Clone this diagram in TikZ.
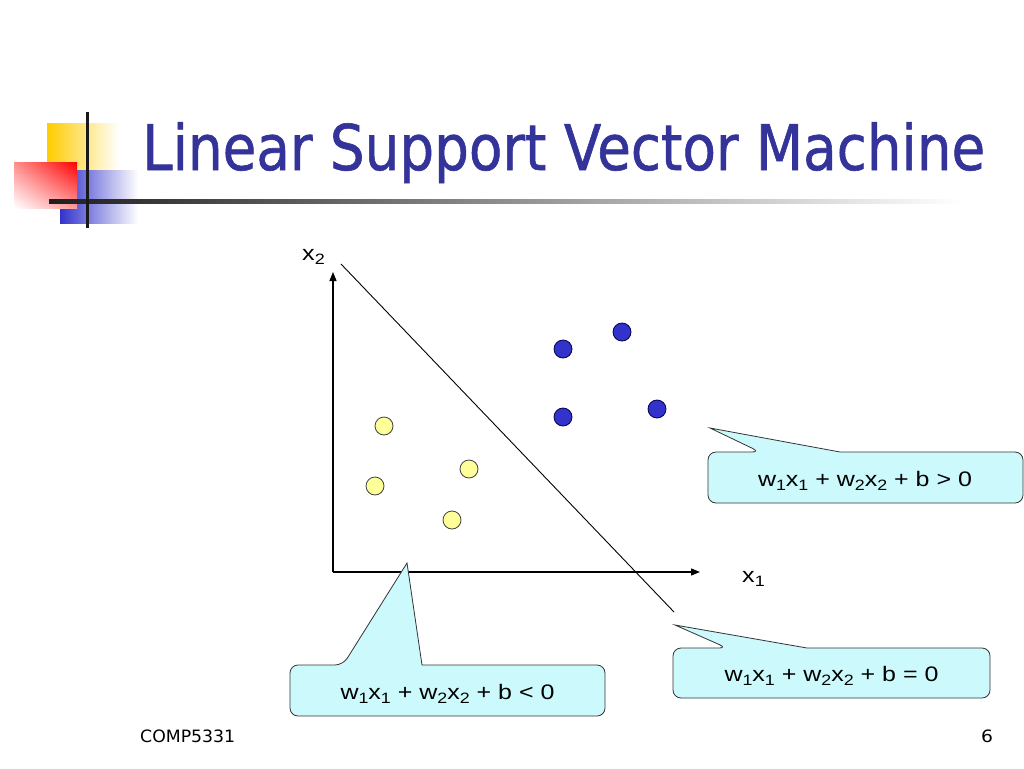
\documentclass[tikz,border=0pt]{standalone}
\usepackage{fontspec}
\setmainfont{Liberation Sans}
\newfontfamily\titlefont[FakeBold=1]{DejaVu Sans}
\newfontfamily\footfont{DejaVu Sans}
\usetikzlibrary{arrows.meta,shadings}
\definecolor{titleblue}{RGB}{51,51,153}
\definecolor{ptblue}{RGB}{51,51,204}
\definecolor{ptyellow}{RGB}{255,255,153}
\definecolor{callfill}{RGB}{204,249,252}
\definecolor{logoyellow}{RGB}{255,204,0}
\definecolor{logoblue}{RGB}{51,51,204}
\newcommand{\sbx}[1]{\raisebox{-4pt}{\fontsize{15}{15}\selectfont #1}}
\newcommand{\eqtext}[1]{\resizebox{214pt}{\height}{\fontsize{21}{24}\selectfont w\sbx{1}x\sbx{1} + w\sbx{2}x\sbx{2} + b #1 0}}
\newcommand{\axlabel}[1]{\scalebox{1.2}[1]{\fontsize{21}{24}\selectfont x\sbx{#1}}}
\tikzset{
  bpt/.style={circle, minimum size=18pt, inner sep=0pt, fill=ptblue, draw=black!70!blue, line width=0.8pt},
  ypt/.style={circle, minimum size=18pt, inner sep=0pt, fill=ptyellow, draw=black!75, line width=0.8pt},
  axis/.style={line width=1.3pt, -{Triangle[length=9pt,width=7pt]}},
  callshape/.style={fill=callfill, draw=black!80, line width=0.8pt},
  eqlabel/.style={anchor=base, inner sep=0pt},
  plain/.style={anchor=base west, inner sep=0pt}
}
\begin{document}
\begin{tikzpicture}[x=1pt, y=-1pt]
\fill[white] (0,0) rectangle (1024,768);
\useasboundingbox (0,0) rectangle (1024,768);

% logo
\shade[left color=logoyellow, middle color=logoyellow, right color=white] (47,123) rectangle (119,195);
\shade[left color=logoblue, middle color=logoblue, right color=white] (60,170) rectangle (138,223);
\shade[upper left=red!45, upper right=red, lower left=white, lower right=red!40] (14,162) rectangle (77,208);
\shade[left color=black!88, middle color=black!28, right color=white] (49,199) rectangle (962,203.5);
\fill[black!90] (85.5,112) rectangle (89,228);

% title
\node[plain, text=titleblue] (title) at (142,170) {\titlefont\resizebox{843pt}{\height}{\fontsize{63}{70}\selectfont Linear Support Vector Machine}};

% axes
\coordinate (O) at (333,572);
\coordinate (xe) at (700,572);
\coordinate (ye) at (333,272);
\draw[axis] (O) -- (xe);
\draw[axis] (O) -- (ye);
\node[plain] (x1lab) at (742,582) {\axlabel{1}};
\node[plain] (x2lab) at (302,260) {\axlabel{2}};

% separating line
\coordinate (s1) at (341,264);
\coordinate (s2) at (674,612);
\draw[line width=0.9pt] (s1) -- (s2);

% points
\node[bpt] (b1) at (563,349) {};
\node[bpt] (b2) at (622,332) {};
\node[bpt] (b3) at (563,417) {};
\node[bpt] (b4) at (657,409) {};
\node[ypt] (y1) at (384,426) {};
\node[ypt] (y2) at (375,486) {};
\node[ypt] (y3) at (469,469) {};
\node[ypt] (y4) at (452,520) {};

% callout > 0
\coordinate (t1) at (710,428);
\path[callshape] (760,452) -- (t1) -- (840,452) [rounded corners=8pt] -- (1023,452) -- (1023,503) -- (708,503) -- (708,452) -- cycle;
\node[eqlabel] (c1) at (865,486) {\eqtext{>}};

% callout = 0
\coordinate (t3) at (675,625);
\path[callshape] (727,648) -- (t3) -- (807,648) [rounded corners=8pt] -- (990,648) -- (990,698) -- (673,698) -- (673,648) -- cycle;
\node[eqlabel] (c3) at (831.5,681.5) {\eqtext{=}};

% callout < 0
\coordinate (t2) at (407,563);
\path[callshape] (343,665) -- (t2) -- (422,665) [rounded corners=8pt] -- (605,665) -- (605,716) -- (290,716) -- (290,665) -- cycle;
\node[eqlabel] (c2) at (447.5,699) {\eqtext{<}};

% footer
\node[plain] (foot) at (140,742) {\footfont\resizebox{95pt}{\height}{\fontsize{17}{20}\selectfont COMP5331}};
\node[plain] (page) at (981,742) {\footfont\scalebox{1.1}[1]{\fontsize{17}{20}\selectfont 6}};
\end{tikzpicture}
\end{document}
